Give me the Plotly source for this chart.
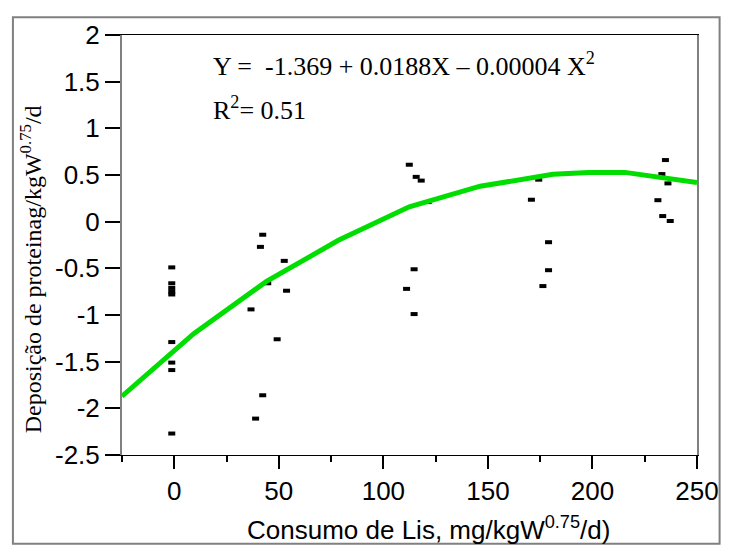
import plotly.graph_objects as go

# Observed data points (Consumo de Lis, Deposição de proteína)
obs_x = [-1.2, -1.2, -1.2, -1.2, -1.2, -1.2, -1.2, -1.2, -1.2,
         42.3, 41.2, 52.6, 44.7, 53.7, 36.7, 49.2, 42.3, 38.9,
         112.4, 115.7, 118.1, 121.4, 114.7, 111.1, 114.7,
         174.3, 170.8, 179.0, 179.0, 176.3,
         234.9, 233.2, 236.1, 231.3, 233.6, 237.2]
obs_y = [-0.49, -0.66, -0.71, -0.75, -0.78, -1.29, -1.51, -1.59, -2.27,
         -0.14, -0.27, -0.42, -0.66, -0.74, -0.94, -1.26, -1.86, -2.11,
         0.61, 0.48, 0.44, 0.21, -0.51, -0.72, -0.99,
         0.45, 0.235, -0.22, -0.52, -0.69,
         0.66, 0.51, 0.41, 0.23, 0.06, 0.007]

# Fitted curve (as drawn)
fit_x = [-25, 9.3, 44.1, 78.5, 112.4, 146.3, 181.1, 198.3, 215.5, 250]
fit_y = [-1.87, -1.20, -0.64, -0.20, 0.16, 0.38, 0.507, 0.528, 0.528, 0.42]

x_ticks = [0, 50, 100, 150, 200, 250]
x_minor = [-25, 25, 75, 125, 175, 225]
y_ticks = [-2.5, -2, -1.5, -1, -0.5, 0, 0.5, 1, 1.5, 2]
y_ticktext = ["-2.5", "-2", "-1.5", "-1", "-0.5", "0", "0.5", "1", "1.5", "2"]

equation = "Y =\u00a0\u00a0-1.369 + 0.0188X – 0.00004 X<sup>2</sup>"
r2_text = "R<sup>2</sup>= 0.51"
x_title = "Consumo de Lis, mg/kgW<sup>0.75</sup>/d)"
y_title = "Deposição de proteinag/kgW<sup>0.75</sup>/d"

SANS = "Liberation Sans, Arial, sans-serif"
SERIF = "Liberation Serif, Times New Roman, serif"

fig = go.Figure()
fig.add_trace(go.Scatter(
    x=obs_x, y=obs_y, mode="markers",
    marker=dict(symbol="line-ew", size=5, color="black",
                line=dict(color="black", width=4)),
    showlegend=False, hoverinfo="x+y"))
fig.add_trace(go.Scatter(
    x=fit_x, y=fit_y, mode="lines",
    line=dict(color="#00dd00", width=5),
    showlegend=False))

# page body has an 8px margin: figure is sized so the page does not overflow
fig.update_layout(
    width=723, height=538,
    margin=dict(l=114, r=24, t=21, b=91),
    paper_bgcolor="white", plot_bgcolor="white",
    font=dict(family=SANS, size=26, color="black"),
    xaxis=dict(range=[-25, 250], tickvals=x_ticks, ticks="outside",
               ticklen=13, tickwidth=1.5, tickcolor="black",
               showline=True, linecolor="black", linewidth=1, mirror=True,
               showgrid=False, zeroline=False,
               tickfont=dict(family=SANS, size=26),
               minor=dict(tickvals=x_minor, ticks="outside", ticklen=6,
                          tickwidth=1.5, tickcolor="black", showgrid=False)),
    yaxis=dict(range=[-2.5, 2], tickvals=y_ticks, ticktext=y_ticktext,
               ticks="outside", ticklen=15, tickwidth=2, tickcolor="black",
               showline=True, linecolor="#808080", linewidth=2, mirror=True,
               showgrid=False, zeroline=False,
               tickfont=dict(family=SANS, size=26)),
    annotations=[
        dict(text=equation, xref="paper", yref="paper", x=0.1556, y=0.929,
             xanchor="left", yanchor="middle", showarrow=False,
             font=dict(family=SERIF, size=26)),
        dict(text=r2_text, xref="paper", yref="paper", x=0.1556, y=0.824,
             xanchor="left", yanchor="middle", showarrow=False,
             font=dict(family=SERIF, size=26)),
        dict(text=x_title, xref="paper", yref="paper", x=0.533, y=-0.176,
             xanchor="center", yanchor="middle", showarrow=False,
             font=dict(family=SANS, size=26)),
        dict(text=y_title, xref="paper", yref="paper", x=-0.159, y=0.441,
             xanchor="center", yanchor="middle", showarrow=False,
             textangle=-90, font=dict(family=SERIF, size=24)),
    ],
    shapes=[
        dict(type="rect", xref="paper", yref="paper",
             x0=-0.1897, x1=1.0393, y0=-0.2113, y1=1.0423,
             line=dict(color="#808080", width=2), fillcolor="rgba(0,0,0,0)",
             layer="below"),
    ],
)

fig.write_html("out.html")
